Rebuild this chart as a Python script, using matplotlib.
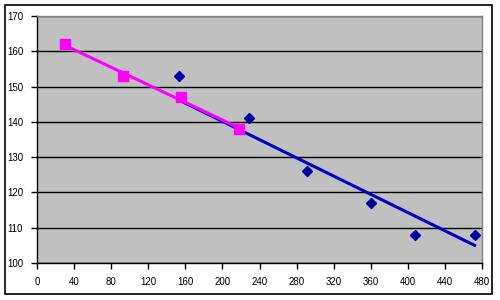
import matplotlib
matplotlib.use("Agg")
import matplotlib.pyplot as plt
from matplotlib.patches import Rectangle

# Data
blue_x = [153, 229, 291, 360, 408, 472]
blue_y = [153, 141, 126, 117, 108, 108]
pink_x = [30, 93, 155, 218]
pink_y = [162, 153, 147, 138]
blue_trend_x = [153, 472]
blue_trend_y = [146.2, 105.0]
pink_trend_x = [30, 218]
pink_trend_y = [161.7, 138.3]
x_ticks = list(range(0, 481, 40))
y_ticks = list(range(100, 171, 10))

plt.rcParams['font.family'] = ['Liberation Sans', 'DejaVu Sans']

fig = plt.figure(figsize=(5, 3), dpi=100)
fig.patches.append(Rectangle((5/500, 6/300), 487/500, 289/300, transform=fig.transFigure,
                             fill=False, edgecolor='black', linewidth=1.2))
ax = fig.add_axes([37/500, 37/300, 445/500, 247/300])
ax.set_facecolor('#C0C0C0')
ax.set_xlim(0, 480)
ax.set_ylim(100, 170)
ax.set_xticks(x_ticks)
ax.set_yticks(y_ticks)
ax.set_xticklabels([str(v) for v in x_ticks])
ax.set_yticklabels([str(v) for v in y_ticks])
ax.tick_params(axis='both', direction='out', length=4, width=1, colors='black', labelsize=7)
ax.tick_params(axis='x', pad=6)
ax.tick_params(axis='y', pad=6)
for lbl in ax.get_xticklabels() + ax.get_yticklabels():
    lbl.set_fontweight('normal')
ax.grid(axis='y', color='black', linewidth=1)
ax.set_axisbelow(True)
ax.spines['left'].set_color('black')
ax.spines['bottom'].set_color('black')
ax.spines['top'].set_color('#808080')
ax.spines['right'].set_color('#808080')
for s in ax.spines.values():
    s.set_linewidth(1)

ax.plot(blue_trend_x, blue_trend_y, color='#0000C0', linewidth=2.2, zorder=3)
ax.plot(pink_trend_x, pink_trend_y, color='#FF00FF', linewidth=2.2, zorder=3)
ax.plot(blue_x, blue_y, linestyle='none', marker='D', markersize=5.5, color='#0000A0', zorder=4)
ax.plot(pink_x, pink_y, linestyle='none', marker='s', markersize=6.5, color='#FF00FF', zorder=4)

fig.savefig('out.png', dpi=100)
